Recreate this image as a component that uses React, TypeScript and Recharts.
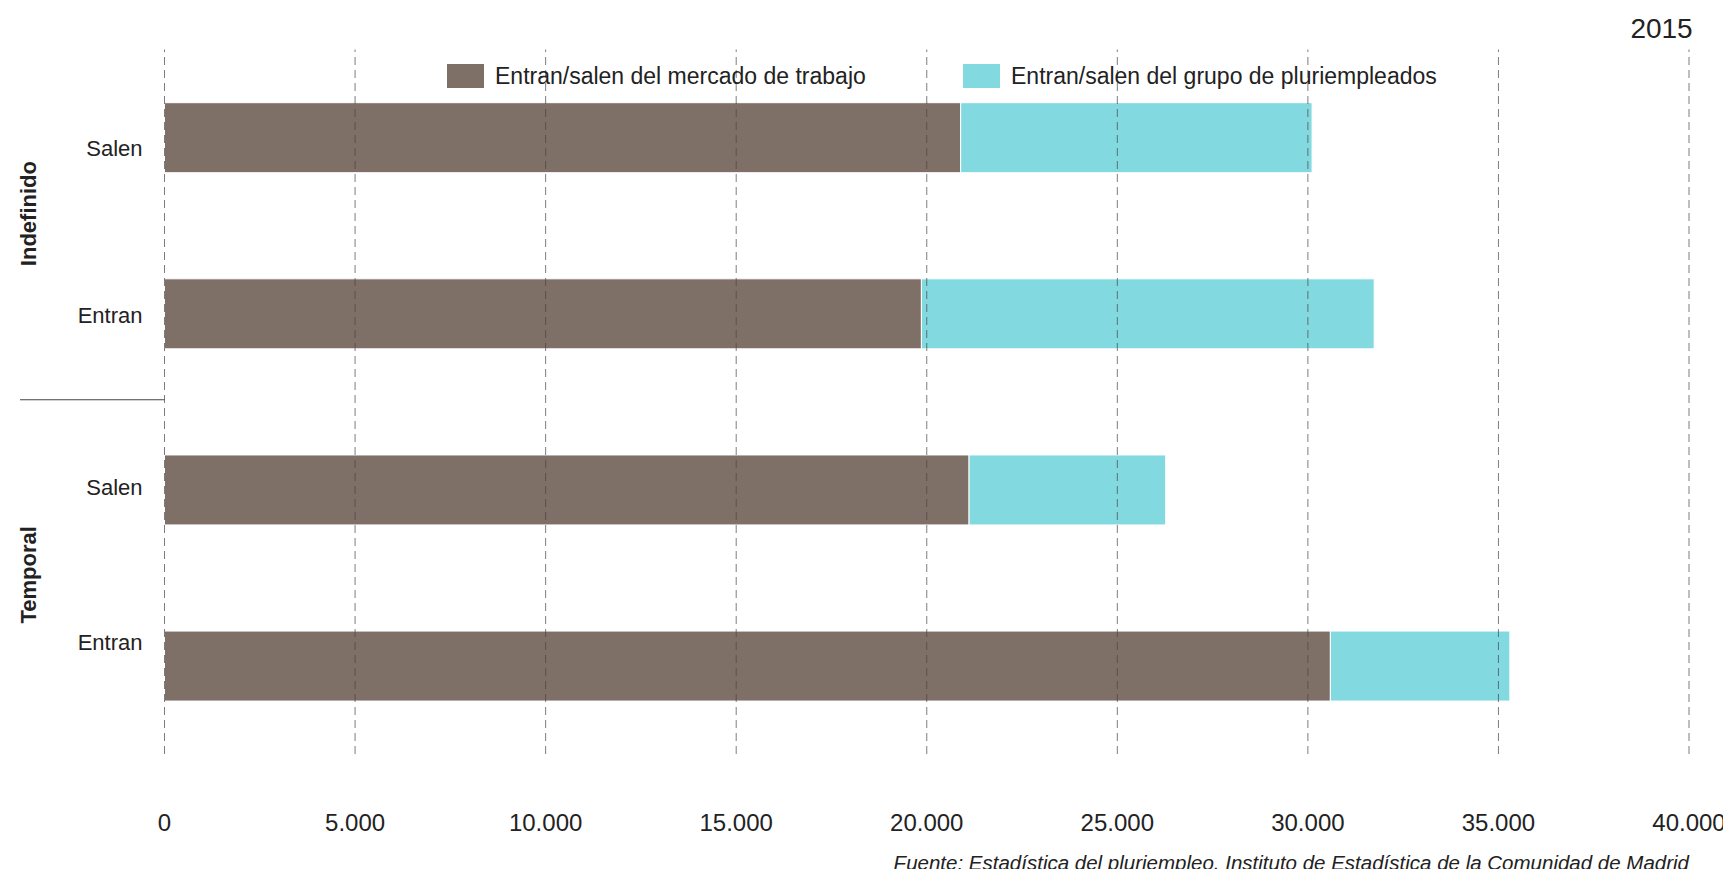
import { BarChart, Bar, XAxis, YAxis, Legend, ReferenceLine } from 'recharts';

// Datos (2015)
const grupos = ['Indefinido', 'Temporal'];
const filas = ['Salen', 'Entran', 'Salen', 'Entran'];
const grupoDeFila = [0, 0, 1, 1];
const mercadoTrabajo = [20890, 19860, 21110, 30590];
const grupoPluriempleados = [9220, 11880, 5160, 4710];
const ticksX = [0, 5000, 10000, 15000, 20000, 25000, 30000, 35000, 40000];
const series = ['mercado', 'pluri'];

const data = filas.map((fila, i) => ({
  id: `${grupos[grupoDeFila[i]]}-${fila}`,
  mercado: mercadoTrabajo[i],
  pluri: grupoPluriempleados[i],
}));

const FONT = '"Liberation Sans", Arial, sans-serif';
const MARRON = '#7F7067';
const CIAN = '#82D9E0';
const TEXTO = '#222';

// ajustes finos de las etiquetas (px), como en el original
const ajusteFila = [11, 2, -3, -24];
const ajusteGrupo = [-12, -3];

const W = 1723;
const H = 861;
const MARGIN = { top: 41.5, right: 42, bottom: 25, left: 6.5 };
const EJE_Y = 150;
const EJE_X = 90;
const ALTO_PLOT = H - MARGIN.top - MARGIN.bottom - EJE_X;

const fmt = (v: number) => new Intl.NumberFormat('de-DE').format(v);

function FilaTick(props: any) {
  const { x, y, index } = props;
  const banda = ALTO_PLOT / filas.length;
  const ejeX = MARGIN.left + EJE_Y;
  const g = grupoDeFila[index];
  return (
    <g>
      <text x={x} y={y + ajusteFila[index]} dy="0.355em" textAnchor="end" fontSize={22} fill={TEXTO} fontFamily={FONT}>
        {filas[index]}
      </text>
      {index % 2 === 0 && (
        <text
          transform={`translate(20, ${y + banda / 2 + ajusteGrupo[g]}) rotate(-90)`}
          dy="0.355em"
          textAnchor="middle"
          fontSize={22}
          fontWeight="bold"
          fill={TEXTO}
          fontFamily={FONT}
        >
          {grupos[g]}
        </text>
      )}
      {index === 2 && (
        <line x1={12} x2={ejeX} y1={y - banda / 2 - 2} y2={y - banda / 2 - 2} stroke="#444" strokeWidth={1} />
      )}
    </g>
  );
}

function Leyenda(props: any) {
  const items = [...(props.payload || [])].sort(
    (a: any, b: any) => series.indexOf(a.dataKey) - series.indexOf(b.dataKey)
  );
  return (
    <div style={{ display: 'flex', alignItems: 'center', fontFamily: FONT }}>
      {items.map((item: any) => (
        <div key={item.value} style={{ display: 'flex', alignItems: 'center', minWidth: 516 }}>
          <span style={{ display: 'inline-block', width: 37, height: 24, background: item.color }} />
          <span style={{ marginLeft: 11, fontSize: 23, color: TEXTO, lineHeight: '24px' }}>{item.value}</span>
        </div>
      ))}
    </div>
  );
}

export default function App() {
  return (
    <div style={{ position: 'relative', width: W, height: H, fontFamily: FONT }}>
      <div
        style={{
          position: 'absolute',
          top: 7.3,
          right: 38.3,
          fontSize: 28,
          lineHeight: '28px',
          color: TEXTO,
        }}
      >
        2015
      </div>
      <BarChart width={W} height={H} data={data} layout="vertical" margin={MARGIN} barCategoryGap="30.2%">
        <XAxis
          type="number"
          domain={[0, 40000]}
          ticks={ticksX}
          tickFormatter={fmt}
          axisLine={false}
          tickLine={false}
          tickSize={0}
          tickMargin={60}
          height={EJE_X}
          interval={0}
          tick={{ fontSize: 24, fill: TEXTO, fontFamily: FONT }}
        />
        <YAxis
          type="category"
          dataKey="id"
          width={EJE_Y}
          axisLine={false}
          tickLine={false}
          tickSize={0}
          tickMargin={22}
          interval={0}
          tick={<FilaTick />}
        />
        <Legend
          layout="horizontal"
          verticalAlign="middle"
          align="center"
          content={<Leyenda />}
          wrapperStyle={{ top: 56, left: 439, width: 'auto' }}
        />
        <Bar dataKey="mercado" name="Entran/salen del mercado de trabajo" stackId="a" fill={MARRON} stroke="#fff" strokeWidth={1} isAnimationActive={false} />
        <Bar dataKey="pluri" name="Entran/salen del grupo de pluriempleados" stackId="a" fill={CIAN} stroke="#fff" strokeWidth={1} isAnimationActive={false} />
        {ticksX.map((t) => (
          <ReferenceLine key={t} x={t} stroke="#444" strokeOpacity={0.7} strokeDasharray="8 5" strokeWidth={1} />
        ))}
      </BarChart>
      <div
        style={{
          position: 'absolute',
          top: 844.6,
          right: 42,
          fontSize: 20.5,
          lineHeight: '20.5px',
          fontStyle: 'italic',
          color: TEXTO,
          whiteSpace: 'nowrap',
        }}
      >
        Fuente: Estadística del pluriempleo. Instituto de Estadística de la Comunidad de Madrid
      </div>
    </div>
  );
}
